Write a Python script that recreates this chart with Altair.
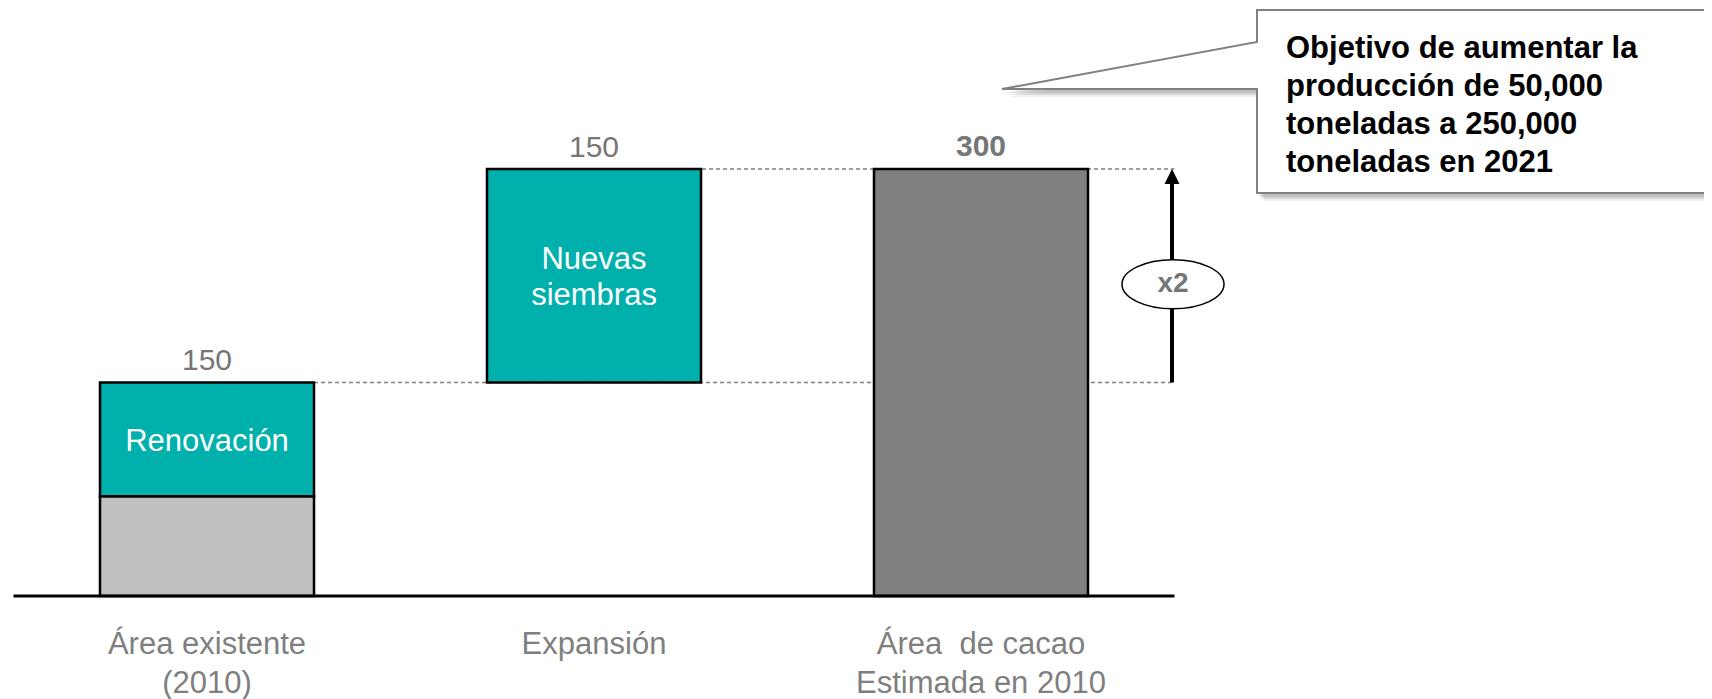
import altair as alt
import pandas as pd

FONT = "Liberation Sans"

# ---------------- data ----------------
categories = ["Área existente (2010)", "Expansión", "Área de cacao Estimada en 2010"]
category_labels = ["Área existente\n(2010)", "Expansión", "Área\u00a0 de cacao\nEstimada en 2010"]
top_values = [150, 150, 300]

seg_category = [categories[0], categories[0], categories[1], categories[2]]
seg_kind = ["Existente", "Renovación", "Nuevas siembras", "Total"]
seg_start = [0, 70, 150, 0]
seg_end = [70, 150, 300, 300]
seg_label = ["", "Renovación", "Nuevas\nsiembras", ""]

ratio_from = 150
ratio_to = 300
ratio_label = "x2"
callout_text = "Objetivo de aumentar la\nproducción de 50,000\ntoneladas a 250,000\ntoneladas en 2021"

# ---------------- layout / style ----------------
W, H = 1696, 691
kind_colors = ["#C0C0C0", "#00B0AD", "#00B0AD", "#808080"]

seg_df = pd.DataFrame({"category": seg_category, "kind": seg_kind,
                       "start": seg_start, "end": seg_end, "label": seg_label})
bar_top = [max(e for c, e in zip(seg_category, seg_end) if c == cat) for cat in categories]
cat_df = pd.DataFrame({"category": categories, "label": category_labels,
                       "value": top_values, "bartop": bar_top})
one = pd.DataFrame({"a": [0]})

xscale = alt.Scale(domain=categories, range=[5.5, 1166.5], paddingInner=0.447, paddingOuter=0.2235)
yscale = alt.Scale(domain=[-72.4, 413.1], nice=False, zero=False)
X = alt.X("category:N", scale=xscale, axis=None)


def ydatum(v):
    return alt.Y(datum=v, type="quantitative", scale=yscale, axis=None)


# dashed connectors
dash150 = alt.Chart(one).mark_rule(color="#808080", strokeWidth=1.5, strokeDash=[4, 3]).encode(
    x=alt.value(306), x2=alt.value(1166.5), y=ydatum(ratio_from))
dash300 = alt.Chart(one).mark_rule(color="#808080", strokeWidth=1.5, strokeDash=[4, 3]).encode(
    x=alt.value(694), x2=alt.value(1166.5), y=ydatum(ratio_to))

bars = alt.Chart(seg_df).mark_bar(stroke="black", strokeWidth=2.5).encode(
    x=X,
    y=alt.Y("start:Q", scale=yscale, axis=None),
    y2="end:Q",
    color=alt.Color("kind:N", scale=alt.Scale(domain=seg_kind, range=kind_colors), legend=None),
)

bar_text_base = alt.Chart(seg_df).transform_filter("datum.label != ''").transform_calculate(
    mid="(datum.start + datum.end) / 2")
bar_text1 = bar_text_base.transform_filter("indexof(datum.label, '\\n') < 0").mark_text(
    font=FONT, fontSize=31, color="white", baseline="alphabetic", dy=12).encode(
    x=X, y=alt.Y("mid:Q", scale=yscale, axis=None), text="label:N")
bar_text2 = bar_text_base.transform_filter("indexof(datum.label, '\\n') >= 0").mark_text(
    font=FONT, fontSize=31, color="white", lineBreak="\n", lineHeight=36, baseline="alphabetic", dy=-7).encode(
    x=X, y=alt.Y("mid:Q", scale=yscale, axis=None), text="label:N")

top_text = alt.Chart(cat_df).transform_filter(alt.datum.value < 300).mark_text(
    font=FONT, fontSize=30, color="#767676", baseline="alphabetic", dy=-12).encode(
    x=X, y=alt.Y("bartop:Q", scale=yscale, axis=None), text="value:Q")
top_text_bold = alt.Chart(cat_df).transform_filter(alt.datum.value >= 300).mark_text(
    font=FONT, fontSize=30, fontWeight="bold", color="#767676", baseline="alphabetic", dy=-13).encode(
    x=X, y=alt.Y("bartop:Q", scale=yscale, axis=None), text="value:Q")

baseline = alt.Chart(one).mark_rule(color="black", strokeWidth=3).encode(
    x=alt.value(5.5), x2=alt.value(1166.5), y=ydatum(0))

cat_text = alt.Chart(cat_df).mark_text(
    font=FONT, fontSize=31, color="#7F7F7F", lineBreak="\n", lineHeight=39, baseline="alphabetic").encode(
    x=X, y=alt.value(646), text="label:N")

# arrow x2
arrow_shaft = alt.Chart(one).mark_rule(color="black", strokeWidth=4).encode(
    x=alt.value(1164), y=ydatum(ratio_from), y2=alt.Y2(datum=ratio_to - 6))
arrow_head = alt.Chart(one).mark_point(
    shape="M0,-1L1,1L-1,1Z", filled=True, color="black", size=225, opacity=1, yOffset=7.5).encode(
    x=alt.value(1164), y=ydatum(ratio_to))
mid_level = (ratio_from + ratio_to) / 2 - 6
ellipse = alt.Chart(one).mark_point(
    shape="M-1,0A1,0.48 0 1,1 1,0A1,0.48 0 1,1 -1,0Z", filled=False, fill="white", fillOpacity=1,
    stroke="black", strokeWidth=1.5, size=10404, opacity=1).encode(
    x=alt.value(1165), y=ydatum(mid_level))
ratio_text = alt.Chart(one).mark_text(
    font=FONT, fontSize=28, fontWeight="bold", color="#767676", baseline="middle").encode(
    x=alt.value(1165), y=ydatum(mid_level), text=alt.value(ratio_label))

# callout box with pointer (single custom symbol path)
pts = [(1249, 2), (1720, 2), (1720, 185), (1249, 185), (1249, 81), (994, 81), (1249, 34)]
cx, cy, k = 1357.0, 93.5, 370.0
path = "".join(("M" if i == 0 else "L") + f"{(px - cx) / k:.5f},{(py - cy) / k:.5f}"
               for i, (px, py) in enumerate(pts)) + "Z"

shadows = []
for dx, dy, op in [(3, 4, 0.25), (5, 6, 0.2), (7, 8, 0.12)]:
    shadows.append(alt.Chart(one).mark_point(
        shape=path, filled=True, color="#7f7f7f", opacity=op, size=(2 * k) ** 2, strokeWidth=0).encode(
        x=alt.value(cx + dx), y=alt.value(cy + dy)))
callout = alt.Chart(one).mark_point(
    shape=path, filled=False, fill="white", fillOpacity=1, stroke="#808080", strokeWidth=2,
    size=(2 * k) ** 2, opacity=1).encode(x=alt.value(cx), y=alt.value(cy))
callout_label = alt.Chart(one).mark_text(
    font=FONT, fontSize=31, fontWeight="bold", color="black", align="left", baseline="alphabetic",
    lineBreak="\n", lineHeight=38).encode(x=alt.value(1278), y=alt.value(50), text=alt.value(callout_text))

chart = alt.layer(
    dash150, dash300, bars, bar_text1, bar_text2, top_text, top_text_bold, baseline, cat_text,
    arrow_shaft, arrow_head, ellipse, ratio_text, *shadows, callout, callout_label
).properties(
    width=W, height=H, autosize=alt.AutoSizeParams(type="none"), padding=0, background="white"
).configure_view(stroke=None)

chart.save("out.html", embed_options={"renderer": "svg", "actions": False})
